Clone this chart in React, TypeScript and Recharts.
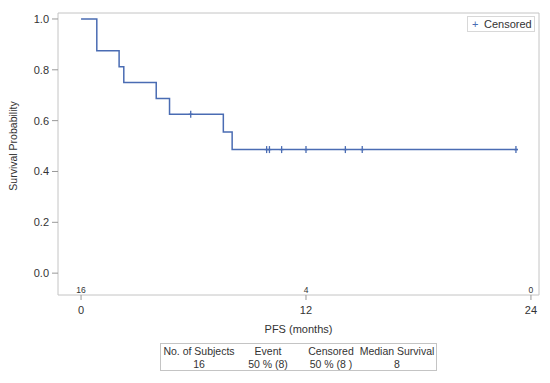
import React from 'react';
import { ComposedChart, Line, Scatter, XAxis, YAxis, ReferenceArea } from 'recharts';

// Kaplan-Meier step function (event times and survival after each step)
const stepTimes = [0, 0.84, 2.03, 2.28, 4.01, 4.72, 7.59, 8.06];
const stepSurvival = [1.0, 0.875, 0.8125, 0.75, 0.6875, 0.625, 0.5556, 0.4861];
const lastFollowUp = 23.3;
// censored observation times
const censorTimes = [5.85, 9.9, 10.05, 10.7, 12.0, 14.1, 15.0, 23.2];
// numbers at risk
const atRiskTimes = [0, 12, 24];
const atRiskCounts = [16, 4, 0];
// axis ticks
const xTicks = [0, 12, 24];
const yTicks = [0, 0.2, 0.4, 0.6, 0.8, 1.0];
// summary table
const tableHeaders = ['No. of Subjects', 'Event', 'Censored', 'Median Survival'];
const tableValues = ['16', '50 % (8)', '50 % (8 )', '8'];

const X_MIN = -1.23;
const X_MAX = 24.43;
const Y_MIN = -0.086;
const Y_MAX = 1.0235;

const BLUE = '#4a6cb3';
const TEXT = '#333333';
const FRAME = '#c4c4c4';
const FONT = '"Liberation Sans", Arial, sans-serif';

const survAt = (t: number) => {
  let s = 1;
  for (let i = 0; i < stepTimes.length; i++) if (stepTimes[i] <= t) s = stepSurvival[i];
  return s;
};

const lineData = stepTimes
  .map((t, i) => ({ t, s: stepSurvival[i] }))
  .concat([{ t: lastFollowUp, s: stepSurvival[stepSurvival.length - 1] }]);
const censorData = censorTimes.map((t) => ({ t, s: survAt(t) }));
const atRiskData = atRiskTimes.map((t, i) => ({ t, s: Y_MIN, n: atRiskCounts[i] }));

const CensorMark = (props: any) => {
  const { cx, cy } = props;
  return (
    <g>
      <line x1={cx} y1={cy - 3.5} x2={cx} y2={cy + 3.5} stroke={BLUE} strokeWidth={1.3} />
      <line x1={cx - 2} y1={cy} x2={cx + 2} y2={cy} stroke={BLUE} strokeWidth={1.3} />
    </g>
  );
};

const AtRiskLabel = (props: any) => {
  const { cx, cy, payload } = props;
  return (
    <text x={cx} y={cy - 2.5} textAnchor="middle" fontSize={8.5} fill={TEXT} fontFamily={FONT}>
      {payload.n}
    </text>
  );
};

const YTitle = (props: any) => {
  const vb = props.viewBox || {};
  const cx = (vb.x ?? 18) - 5;
  const cy = (vb.y ?? 13) + (vb.height ?? 282) / 2 - 8;
  return (
    <text
      x={cx}
      y={cy}
      transform={`rotate(-90 ${cx} ${cy})`}
      textAnchor="middle"
      dominantBaseline="central"
      fontSize={10.5}
      fill={TEXT}
      fontFamily={FONT}
    >
      Survival Probability
    </text>
  );
};

const colCenters = [38, 107, 170, 236];

export default function App() {
  return (
    <div style={{ position: 'absolute', left: 0, top: 0, width: 550, height: 383, background: '#fff' }}>
      <ComposedChart
        width={550}
        height={383}
        margin={{ top: 13, right: 11, bottom: 58, left: 18 }}
        style={{ fontFamily: FONT }}
      >
        <XAxis
          type="number"
          dataKey="t"
          domain={[X_MIN, X_MAX]}
          ticks={xTicks}
          allowDataOverflow
          height={30}
          axisLine={false}
          tickLine={{ stroke: '#999' }}
          tickSize={5}
          tickMargin={6}
          tick={{ fill: TEXT, fontSize: 11 }}
          label={{ value: 'PFS (months)', position: 'bottom', offset: 0, fill: TEXT, fontSize: 11 }}
        />
        <YAxis
          type="number"
          dataKey="s"
          domain={[Y_MIN, Y_MAX]}
          ticks={yTicks}
          allowDataOverflow
          width={40}
          axisLine={false}
          tickLine={{ stroke: '#999' }}
          tickSize={6}
          tickMargin={3}
          tick={{ fill: TEXT, fontSize: 11 }}
          tickFormatter={(v: number) => v.toFixed(1)}
          label={<YTitle />}
        />
        <ReferenceArea
          x1={X_MIN}
          x2={X_MAX}
          y1={Y_MIN}
          y2={Y_MAX}
          fill="none"
          stroke={FRAME}
          strokeWidth={1}
          ifOverflow="visible"
        />
        <Line
          data={lineData}
          dataKey="s"
          type="stepAfter"
          stroke={BLUE}
          strokeWidth={1.5}
          dot={false}
          isAnimationActive={false}
          legendType="none"
        />
        <Scatter data={censorData} dataKey="s" shape={<CensorMark />} isAnimationActive={false} />
        <Scatter data={atRiskData} dataKey="s" shape={<AtRiskLabel />} isAnimationActive={false} />
      </ComposedChart>
      <div
        style={{
          position: 'absolute',
          left: 467,
          top: 16,
          width: 68,
          height: 16,
          boxSizing: 'border-box',
          border: '1px solid #d8d8d8',
          fontFamily: FONT,
          fontSize: 11,
          color: TEXT,
          lineHeight: '14px',
          background: '#fff',
        }}
      >
        <span style={{ position: 'absolute', left: 4, top: 0, color: BLUE }}>+</span>
        <span style={{ position: 'absolute', left: 16, top: 0 }}>Censored</span>
      </div>
      <div
        style={{
          position: 'absolute',
          left: 160,
          top: 343,
          width: 277,
          height: 28,
          boxSizing: 'border-box',
          border: `1px solid ${FRAME}`,
          fontFamily: FONT,
          fontSize: 10.5,
          color: TEXT,
        }}
      >
        {tableHeaders.map((h, i) => (
          <span
            key={'h' + i}
            style={{ position: 'absolute', left: colCenters[i], top: 1, transform: 'translateX(-50%)', whiteSpace: 'nowrap', lineHeight: '12px' }}
          >
            {h}
          </span>
        ))}
        {tableValues.map((v, i) => (
          <span
            key={'v' + i}
            style={{ position: 'absolute', left: colCenters[i], top: 14, transform: 'translateX(-50%)', whiteSpace: 'nowrap', lineHeight: '12px' }}
          >
            {v}
          </span>
        ))}
      </div>
    </div>
  );
}
